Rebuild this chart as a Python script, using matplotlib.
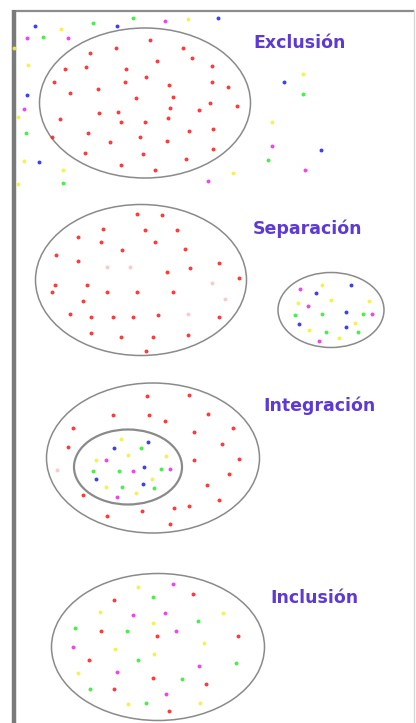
import matplotlib.pyplot as plt
from matplotlib.patches import Ellipse

# everything is in pixel units of the 416x723 picture (y grows downward)
W, H = 416, 723

RED = '#ff2424'
YEL = '#f2f23a'
GRN = '#33ee33'
BLU = '#2a2aee'
MAG = '#f030f0'
FAINT = '#f4c8c8'

# --- Exclusión ---
excl_red = [(150, 40), (183, 48), (192, 58), (90, 53), (116, 48), (157, 61), (65, 69), (86, 67),
            (126, 69), (146, 77), (212, 66), (54, 82), (125, 82), (169, 85), (212, 82), (228, 87),
            (70, 93), (98, 89), (136, 98), (173, 97), (210, 103), (237, 106), (99, 113), (118, 112),
            (170, 108), (199, 110), (60, 119), (121, 122), (145, 122), (168, 118), (213, 129),
            (189, 131), (88, 133), (52, 137), (140, 137), (167, 141), (110, 142), (213, 149),
            (85, 153), (143, 154), (186, 159), (121, 165), (155, 170)]
excl_yel = [(14, 48), (61, 29), (28, 65), (18, 117), (24, 161), (63, 170), (18, 184), (233, 173),
            (272, 122), (303, 74), (188, 19)]
excl_grn = [(93, 23), (133, 18), (43, 37), (26, 133), (63, 183), (303, 94), (268, 160)]
excl_blu = [(35, 26), (117, 26), (218, 18), (27, 95), (39, 162), (284, 82), (321, 150)]
excl_mag = [(27, 38), (68, 38), (165, 21), (24, 109), (208, 181), (305, 170), (272, 146)]

# --- Separación ---
sep_red = [(137, 214), (162, 215), (78, 237), (103, 229), (145, 230), (177, 230), (101, 242),
           (155, 242), (122, 250), (185, 249), (56, 255), (78, 261), (167, 272), (190, 268),
           (219, 263), (239, 278), (55, 285), (87, 285), (52, 292), (107, 292), (137, 292),
           (173, 292), (83, 301), (70, 314), (91, 317), (113, 317), (133, 317), (158, 315),
           (219, 317), (91, 333), (121, 337), (153, 337), (188, 335), (146, 351)]
sep_faint = [(107, 267), (130, 267), (212, 283), (225, 299), (188, 314)]
sep_mag = [(300, 289), (308, 306), (319, 341), (372, 314)]
sep_yel = [(322, 285), (298, 303), (331, 300), (369, 301), (355, 323), (339, 338), (309, 330)]
sep_blu = [(316, 293), (351, 285), (346, 312), (346, 327), (299, 324)]
sep_grn = [(322, 314), (363, 314), (358, 332), (295, 315), (326, 332)]

# --- Integración ---
int_red = [(147, 396), (189, 395), (113, 415), (149, 415), (165, 421), (208, 414), (73, 428),
           (194, 432), (233, 428), (68, 447), (222, 444), (194, 460), (239, 459), (229, 474),
           (207, 485), (83, 495), (219, 500), (189, 506), (174, 508), (142, 511), (107, 516),
           (170, 524)]
int_faint = [(57, 470)]
int_yel = [(121, 439), (128, 455), (166, 456), (96, 460), (152, 479), (106, 487), (136, 493)]
int_blu = [(114, 448), (148, 442), (144, 467), (96, 479), (143, 484)]
int_grn = [(141, 448), (93, 471), (119, 471), (161, 469), (154, 488), (122, 487)]
int_mag = [(133, 471), (117, 497), (170, 469), (106, 460)]

# --- Inclusión ---
inc_yel = [(138, 587), (100, 612), (153, 623), (223, 613), (115, 649), (204, 643), (78, 673),
           (154, 654), (128, 704), (200, 703)]
inc_mag = [(173, 584), (133, 615), (176, 631), (199, 666), (117, 672), (73, 647), (166, 694),
           (165, 613)]
inc_red = [(114, 600), (193, 594), (101, 631), (114, 689), (157, 636), (238, 636), (89, 660),
           (153, 678), (206, 684), (169, 711)]
inc_grn = [(153, 597), (75, 628), (127, 631), (198, 621), (182, 679), (236, 663), (90, 689),
           (146, 703), (138, 660)]

# ellipses: (cx, cy, width, height, linewidth)
ellipses = [(145, 103, 211, 150, 1.1),
            (141, 280, 211, 151, 1.1),
            (331, 310, 106, 75, 1.1),
            (153, 458, 213, 150, 1.1),
            (128, 467, 108, 75, 1.6),
            (158, 647, 213, 147, 1.1)]

labels = ['Exclusión', 'Separación', 'Integración', 'Inclusión']
label_pos = [(253, 43), (253, 229), (263, 406), (270, 598)]

fig = plt.figure(figsize=(W / 100, H / 100), dpi=100)
ax = fig.add_axes([0, 0, 1, 1])
ax.set_xlim(0, W)
ax.set_ylim(H, 0)
ax.axis('off')

# frame
ax.plot([12, 414], [11, 11], color='#8c8c8c', lw=1.6, solid_capstyle='butt')
ax.plot([13.5, 13.5], [10, H], color='#7a7a7a', lw=3.2, solid_capstyle='butt')
ax.plot([414, 414], [10, H], color='#d8d8d8', lw=1.0)

for cx, cy, w, h, lw in ellipses:
    ax.add_patch(Ellipse((cx, cy), w, h, fill=False, edgecolor='#8a8a8a', lw=lw))

groups = [(excl_red, RED), (excl_yel, YEL), (excl_grn, GRN), (excl_blu, BLU), (excl_mag, MAG),
          (sep_red, RED), (sep_faint, FAINT), (sep_mag, MAG), (sep_yel, YEL), (sep_blu, BLU),
          (sep_grn, GRN),
          (int_red, RED), (int_faint, FAINT), (int_yel, YEL), (int_blu, BLU), (int_grn, GRN),
          (int_mag, MAG),
          (inc_yel, YEL), (inc_mag, MAG), (inc_red, RED), (inc_grn, GRN)]
for pts, col in groups:
    xs = [p[0] for p in pts]
    ys = [p[1] for p in pts]
    ax.scatter(xs, ys, s=8, color=col, linewidths=0, alpha=0.9, zorder=3)

for txt, (x, y) in zip(labels, label_pos):
    ax.text(x, y, txt, color='#5d3ad6', fontsize=12.5, fontweight='bold',
            fontfamily='DejaVu Sans', ha='left', va='center')

fig.savefig('out.png', dpi=100)
